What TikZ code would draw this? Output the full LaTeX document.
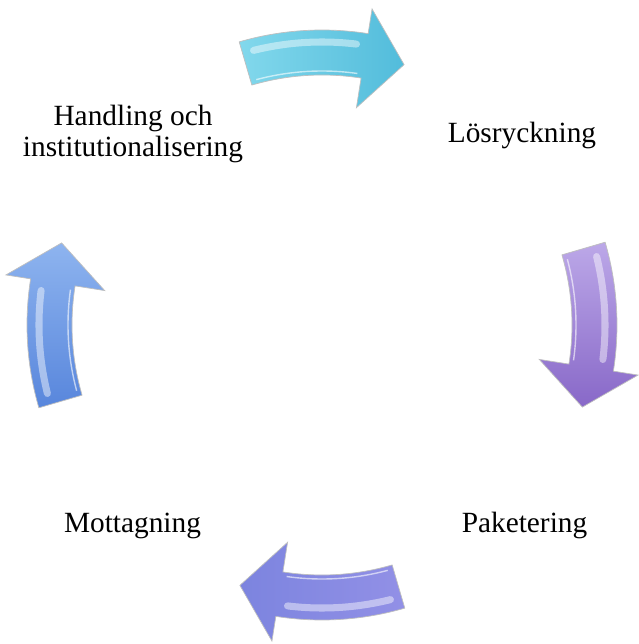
\documentclass[tikz,border=0pt]{standalone}
\usepackage{fontspec}
\setmainfont{Liberation Serif}

\definecolor{cyanA}{HTML}{82D8EC}
\definecolor{cyanB}{HTML}{52BCDB}
\definecolor{lilaA}{HTML}{BCA8E8}
\definecolor{lilaB}{HTML}{8868C8}
\definecolor{blaA}{HTML}{9290E6}
\definecolor{blaB}{HTML}{7C84DF}
\definecolor{ljusA}{HTML}{5886DC}
\definecolor{ljusB}{HTML}{8EB4EF}

\tikzset{stage/.style={font=\fontsize{16.7}{18}\selectfont, align=center, anchor=base, inner sep=0pt}}

\begin{document}
\begin{tikzpicture}[scale=0.02]
\useasboundingbox (-322,-319) rectangle (316,325);

\foreach \r/\ca/\cb in {90/cyanA/cyanB, 0/lilaA/lilaB, -90/blaA/blaB, 180/ljusA/ljusB}{
  \shadedraw[top color=\ca, bottom color=\cb, shading angle=\r, draw=black!25, line width=0.4pt]
    ({\r+16.3}:250) arc[start angle=\r+16.3, end angle=\r-9, radius=250]
    -- ({\r-9}:220) -- ({\r-17.5}:273) -- ({\r-9}:320) -- ({\r-9}:295)
    arc[start angle=\r-9, end angle=\r+16.3, radius=295] -- cycle;
  \draw[white, opacity=0.45, line width=4, line cap=round]
    ({\r+14}:283) arc[start angle=\r+14, end angle=\r-7, radius=283];
  \draw[white, opacity=0.6, line width=0.8]
    ({\r+15}:254) arc[start angle=\r+15, end angle=\r-8, radius=254];
}

\node[stage] (losr) at (200,182) {Lösryckning};
\node[stage] (pak) at (202.5,-207) {Paketering};
\node[stage] (mott) at (-189.5,-207) {Mottagning};
\node[stage] (hand) at (-189,168) {Handling och\\institutionalisering};

\end{tikzpicture}
\end{document}
